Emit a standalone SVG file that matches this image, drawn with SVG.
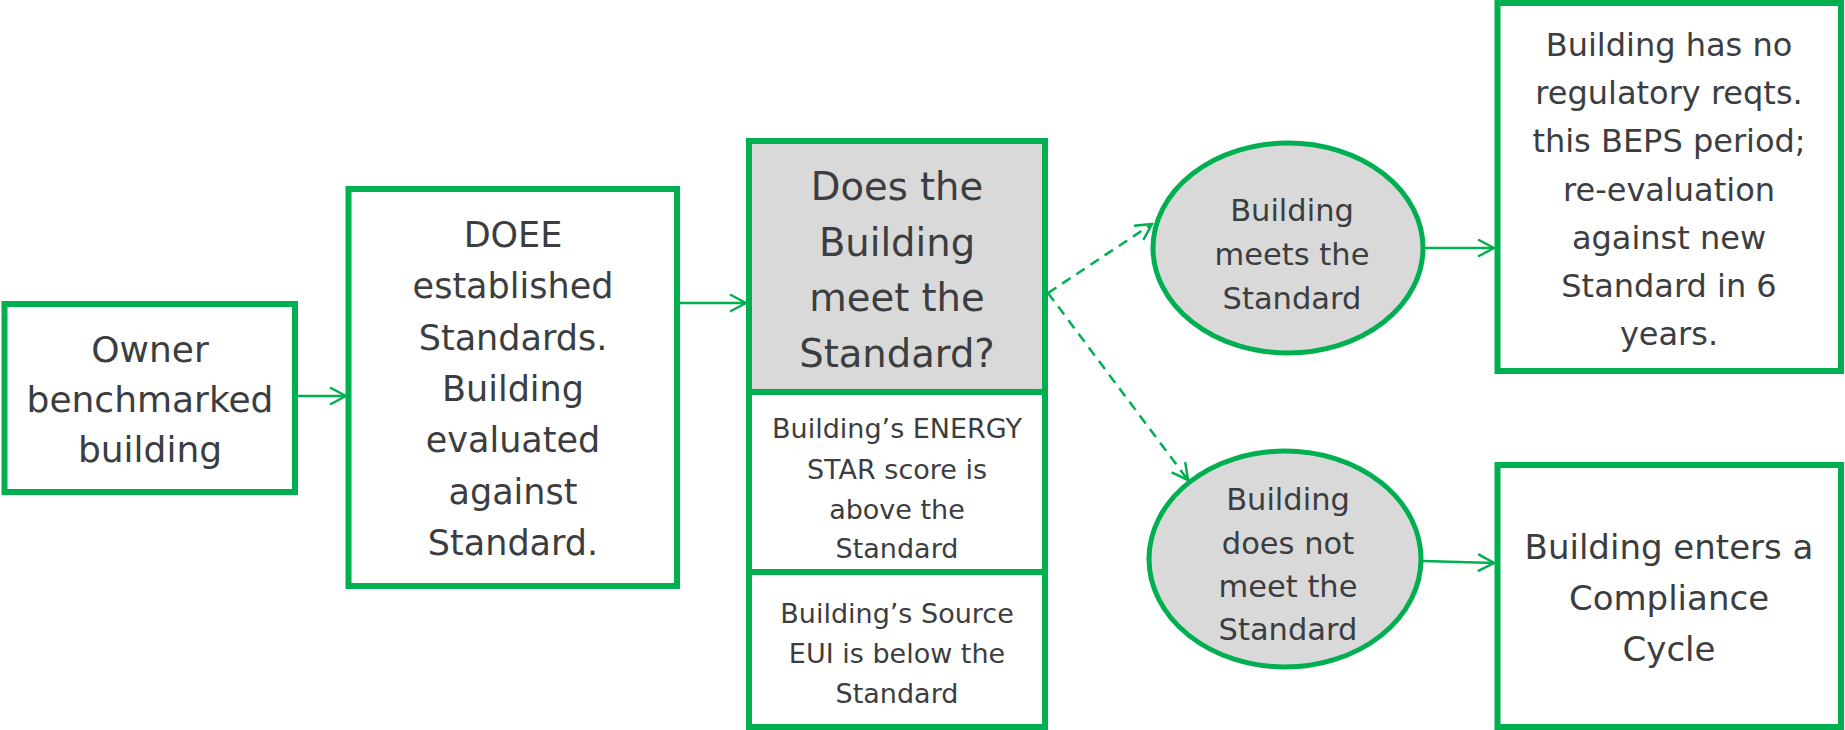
<svg xmlns="http://www.w3.org/2000/svg" width="1845" height="730" viewBox="0 0 1845 730">
<style>
.box{fill:#ffffff;stroke:#00b050;stroke-width:6}
.grey{fill:#d9d9d9;stroke:#00b050;stroke-width:6}
.ell{fill:#d9d9d9;stroke:#00b050;stroke-width:5}
.t{font-family:"DejaVu Sans",sans-serif;fill:#3c3d40;text-anchor:middle}
.conn{fill:none;stroke:#00b050;stroke-width:2.5}
.dash{stroke-dasharray:10 7}
</style>
<defs>
<marker id="arr" viewBox="0 0 20 20" refX="18" refY="10" markerWidth="20" markerHeight="20" markerUnits="userSpaceOnUse" orient="auto">
<path d="M2,1.5 L18,10 L2,18.5" fill="none" stroke="#00b050" stroke-width="2.5" stroke-dasharray="none"/>
</marker>
</defs>
<rect width="1845" height="730" fill="#ffffff"/>
<g id="connectors">
<line class="conn" x1="298" y1="396" x2="346" y2="396" marker-end="url(#arr)"/>
<line class="conn" x1="680" y1="303" x2="746" y2="303" marker-end="url(#arr)"/>
<line class="conn dash" x1="1048" y1="293" x2="1152" y2="224" marker-end="url(#arr)"/>
<line class="conn dash" x1="1048" y1="293" x2="1188" y2="480" marker-end="url(#arr)"/>
<line class="conn" x1="1425" y1="248" x2="1494" y2="248" marker-end="url(#arr)"/>
<line class="conn" x1="1423" y1="561" x2="1494" y2="563" marker-end="url(#arr)"/>
</g>
<g id="owner">
<rect class="box" x="4.5" y="304" width="290.5" height="188"/>
<text class="t" font-size="36"><tspan x="150" y="362">Owner</tspan><tspan x="150" y="412">benchmarked</tspan><tspan x="150" y="462">building</tspan></text>
</g>
<g id="doee">
<rect class="box" x="348.5" y="189" width="328.5" height="397"/>
<text class="t" font-size="35"><tspan x="513" y="247">DOEE</tspan><tspan x="513" y="298">established</tspan><tspan x="513" y="350">Standards.</tspan><tspan x="513" y="401">Building</tspan><tspan x="513" y="452">evaluated</tspan><tspan x="513" y="503.5">against</tspan><tspan x="513" y="555">Standard.</tspan></text>
</g>
<g id="question">
<rect class="grey" x="749" y="141" width="296" height="251"/>
<text class="t" font-size="38.5"><tspan x="897" y="200">Does the</tspan><tspan x="897" y="255.5">Building</tspan><tspan x="897" y="311">meet the</tspan><tspan x="897" y="366.5">Standard?</tspan></text>
</g>
<g id="energy-star">
<rect class="box" x="749" y="392" width="296" height="180"/>
<text class="t" font-size="27"><tspan x="897" y="438">Building’s ENERGY</tspan><tspan x="897" y="478.5">STAR score is</tspan><tspan x="897" y="519">above the</tspan><tspan x="897" y="558">Standard</tspan></text>
</g>
<g id="source-eui">
<rect class="box" x="749" y="572" width="296" height="155"/>
<text class="t" font-size="27"><tspan x="897" y="623">Building’s Source</tspan><tspan x="897" y="663">EUI is below the</tspan><tspan x="897" y="703">Standard</tspan></text>
</g>
<g id="meets">
<ellipse class="ell" cx="1288" cy="248" rx="135" ry="105"/>
<text class="t" font-size="30.5"><tspan x="1292" y="221">Building</tspan><tspan x="1292" y="265">meets the</tspan><tspan x="1292" y="309">Standard</tspan></text>
</g>
<g id="not-meets">
<ellipse class="ell" cx="1285" cy="559" rx="136" ry="108"/>
<text class="t" font-size="30.5"><tspan x="1288" y="510">Building</tspan><tspan x="1288" y="554">does not</tspan><tspan x="1288" y="597">meet the</tspan><tspan x="1288" y="640">Standard</tspan></text>
</g>
<g id="no-reqts">
<rect class="box" x="1497.5" y="3" width="343.5" height="368"/>
<text class="t" font-size="32"><tspan x="1669" y="56">Building has no</tspan><tspan x="1669" y="104">regulatory reqts.</tspan><tspan x="1669" y="152">this BEPS period;</tspan><tspan x="1669" y="200.5">re-evaluation</tspan><tspan x="1669" y="249">against new</tspan><tspan x="1669" y="297">Standard in 6</tspan><tspan x="1669" y="344.5">years.</tspan></text>
</g>
<g id="compliance">
<rect class="box" x="1497.5" y="465" width="343.5" height="262"/>
<text class="t" font-size="34"><tspan x="1669" y="559">Building enters a</tspan><tspan x="1669" y="610">Compliance</tspan><tspan x="1669" y="661">Cycle</tspan></text>
</g>
</svg>
